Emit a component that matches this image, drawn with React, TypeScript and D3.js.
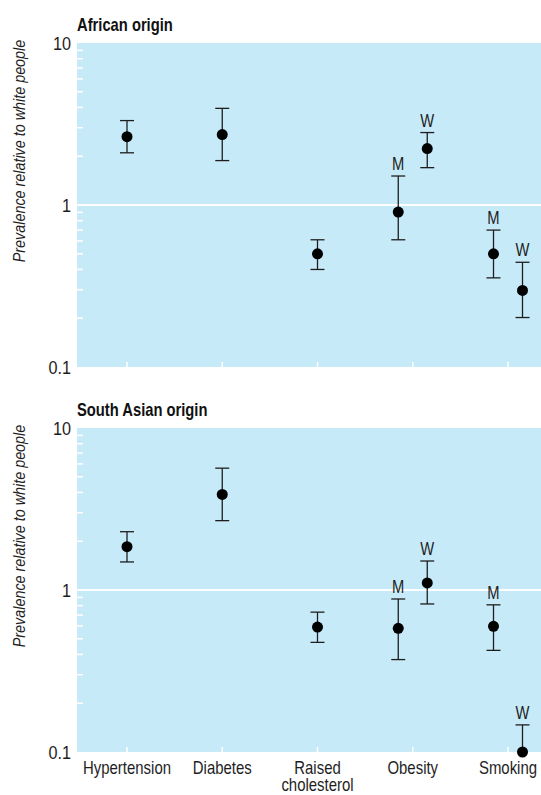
import * as d3 from 'd3'

const categories = ['Hypertension', 'Diabetes', 'Raised cholesterol', 'Obesity', 'Smoking']

// sex: '' = both sexes, 'M' men, 'W' women
const africanPoints = [
  { cat: 'Hypertension', sex: '', value: 2.64, lo: 2.1, hi: 3.32 },
  { cat: 'Diabetes', sex: '', value: 2.72, lo: 1.88, hi: 3.95 },
  { cat: 'Raised cholesterol', sex: '', value: 0.5, lo: 0.4, hi: 0.61 },
  { cat: 'Obesity', sex: 'M', value: 0.905, lo: 0.61, hi: 1.51 },
  { cat: 'Obesity', sex: 'W', value: 2.23, lo: 1.7, hi: 2.8 },
  { cat: 'Smoking', sex: 'M', value: 0.5, lo: 0.355, hi: 0.7 },
  { cat: 'Smoking', sex: 'W', value: 0.297, lo: 0.202, hi: 0.443 },
]

const southAsianPoints = [
  { cat: 'Hypertension', sex: '', value: 1.85, lo: 1.49, hi: 2.29 },
  { cat: 'Diabetes', sex: '', value: 3.89, lo: 2.68, hi: 5.65 },
  { cat: 'Raised cholesterol', sex: '', value: 0.59, lo: 0.475, hi: 0.73 },
  { cat: 'Obesity', sex: 'M', value: 0.58, lo: 0.372, hi: 0.88 },
  { cat: 'Obesity', sex: 'W', value: 1.105, lo: 0.82, hi: 1.51 },
  { cat: 'Smoking', sex: 'M', value: 0.597, lo: 0.424, hi: 0.81 },
  { cat: 'Smoking', sex: 'W', value: 0.1, lo: 0.1, hi: 0.147 },
]

const yTicks = [0.1, 1, 10]
const yLabel = 'Prevalence relative to white people'

const FONT = "'Liberation Sans', Arial, sans-serif"
const BG = '#c7eaf9'
const INK = '#1e1e1e'

const left = 77
const right = 541
const x = d3.scalePoint<string>().domain(categories).range([127, 508])
const offset = { '': 0, M: -14.5, W: 14.5 } as Record<string, number>

type Pt = { cat: string; sex: string; value: number; lo: number; hi: number }

// condensed look: squeeze text horizontally around its anchor point
function T({ x, y, children, sx = 0.9, rotate = 0, ...rest }: any) {
  return (
    <text
      transform={`translate(${x},${y}) rotate(${rotate}) scale(${sx},1)`}
      fontFamily={FONT}
      fill={INK}
      {...rest}
    >
      {children}
    </text>
  )
}

function Panel({ title, points, top }: { title: string; points: Pt[]; top: number }) {
  const h = 324
  const y = d3.scaleLog().domain([0.1, 10]).range([top + h, top])
  const minor: number[] = []
  ;[0.1, 1].forEach(d => {
    for (let k = 2; k <= 9; k++) minor.push(d * k)
  })
  return (
    <g>
      <T x={left} y={top - 12} fontWeight="bold" fontSize={18} sx={0.82} fill="#111">
        {title}
      </T>
      <rect x={left} y={top} width={right - left} height={h} fill={BG} />
      <line x1={left} x2={right} y1={y(1)} y2={y(1)} stroke="#fff" strokeWidth={2} />
      {minor.map(d => (
        <line key={d} x1={left} x2={left + 6} y1={y(d)} y2={y(d)} stroke="#fff" strokeWidth={1.5} />
      ))}
      {categories.map(c => (
        <line key={c} x1={x(c)} x2={x(c)} y1={top + h} y2={top + h - 5} stroke="#fff" strokeWidth={1.5} />
      ))}
      {yTicks.map(t => (
        <T key={t} x={71} y={y(t) + 6.5} textAnchor="end" fontSize={18} sx={0.9}>
          {t}
        </T>
      ))}
      <T x={25} y={top + 108} rotate={-90} textAnchor="middle" fontStyle="italic" fontSize={16.5} sx={0.87}>
        {yLabel}
      </T>
      {points.map((p, i) => {
        const cx = (x(p.cat) as number) + offset[p.sex]
        return (
          <g key={i}>
            <line x1={cx} x2={cx} y1={y(p.lo)} y2={y(p.hi)} stroke={INK} strokeWidth={1.3} />
            <line x1={cx - 7} x2={cx + 7} y1={y(p.hi)} y2={y(p.hi)} stroke={INK} strokeWidth={1.3} />
            {p.lo > 0.1 && (
              <line x1={cx - 7} x2={cx + 7} y1={y(p.lo)} y2={y(p.lo)} stroke={INK} strokeWidth={1.3} />
            )}
            <circle cx={cx} cy={y(p.value)} r={5.5} fill="#000" />
            {p.sex && (
              <T x={cx} y={y(p.hi) - 6} textAnchor="middle" fontSize={18} sx={0.82}>
                {p.sex}
              </T>
            )}
          </g>
        )
      })}
    </g>
  )
}

export default function App() {
  return (
    <svg width={541} height={795} style={{ position: 'absolute', left: 0, top: 0, background: '#fff' }}>
      <Panel title="African origin" points={africanPoints} top={43} />
      <Panel title="South Asian origin" points={southAsianPoints} top={428} />
      {categories.map(c => {
        const lines = c === 'Raised cholesterol' ? ['Raised', 'cholesterol'] : [c]
        return lines.map((l, i) => (
          <T key={l} x={x(c)} y={774 + i * 17} textAnchor="middle" fontSize={18} sx={0.83}>
            {l}
          </T>
        ))
      })}
    </svg>
  )
}
